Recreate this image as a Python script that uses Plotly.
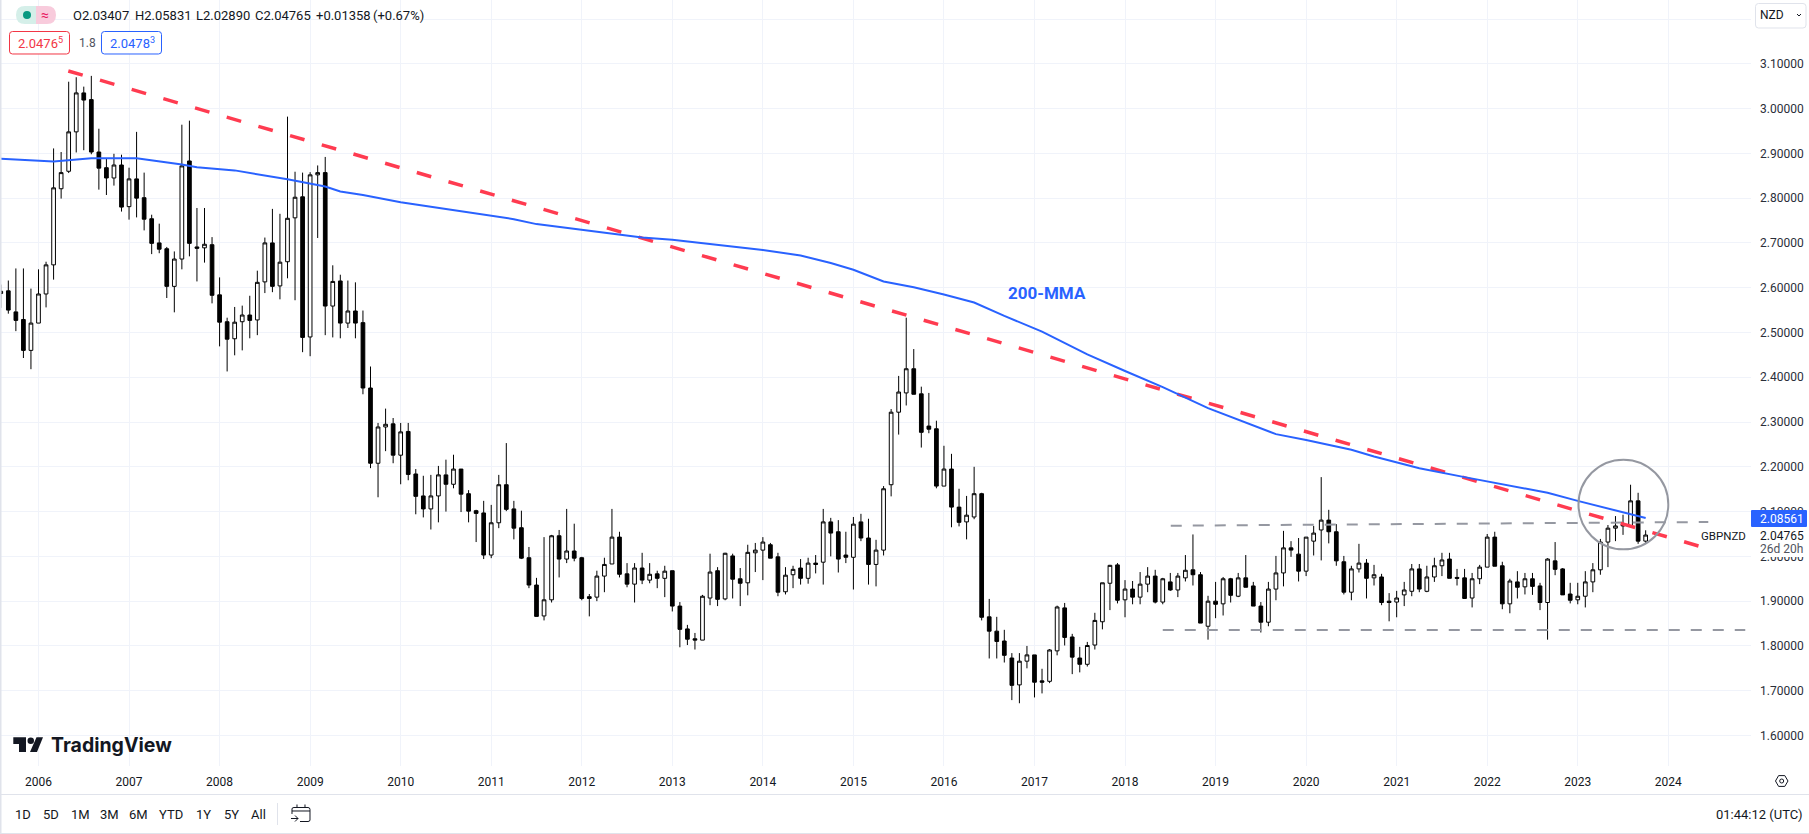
import re
import plotly.graph_objects as go

FIRST_MONTH = -5  # month index 0 = Jan 2006; series starts Aug 2005
opens = [
2.587,2.593,2.546,2.529,2.460,2.521,2.586,2.651,2.821,2.860,
2.948,3.035,3.020,2.903,2.868,2.845,2.874,2.781,2.843,2.801,
2.754,2.700,2.687,2.603,2.664,2.883,2.691,2.689,2.696,2.584,
2.524,2.486,2.524,2.539,2.528,2.613,2.700,2.604,2.658,2.756,
2.803,2.490,2.852,2.857,2.559,2.615,2.521,2.548,2.522,2.376,
2.208,2.289,2.296,2.226,2.279,2.184,2.135,2.106,2.135,2.182,
2.161,2.195,2.140,2.102,2.097,2.003,2.075,2.160,2.106,2.064,
1.997,1.936,1.867,1.903,2.046,1.994,2.012,1.997,1.910,1.909,
1.956,1.983,2.043,1.961,1.938,1.974,1.947,1.961,1.951,1.968,
1.889,1.838,1.816,1.813,1.907,1.968,1.905,2.001,1.950,1.941,
2.008,2.014,2.026,1.999,1.921,1.959,1.974,1.951,1.985,1.987,
2.077,2.055,2.003,1.998,2.077,2.041,1.982,2.014,2.160,2.322,
2.365,2.419,2.363,2.291,2.285,2.157,2.195,2.110,2.077,2.088,
2.140,1.865,1.833,1.811,1.773,1.713,1.766,1.780,1.722,1.721,
1.789,1.885,1.820,1.773,1.759,1.802,1.854,1.940,1.981,1.903,
1.927,1.909,1.938,1.956,1.898,1.943,1.925,1.952,1.970,1.959,
1.844,1.900,1.894,1.950,1.911,1.952,1.934,1.889,1.853,1.927,
1.963,2.019,2.005,1.967,2.034,2.059,2.081,2.055,1.988,1.920,
1.972,1.985,1.952,1.954,1.900,1.898,1.914,1.922,1.972,1.922,
1.954,1.979,1.994,1.953,1.952,1.907,1.950,1.976,2.043,1.979,
1.894,1.943,1.932,1.950,1.934,1.897,1.990,1.972,1.916,1.903,
1.911,1.943,1.970,2.032,2.063,2.072,2.068,2.124,2.03407]
highs = [
2.607,2.616,2.643,2.643,2.598,2.641,2.658,2.911,2.903,3.060,
3.070,3.049,3.073,2.955,2.888,2.899,2.897,2.868,2.948,2.857,
2.763,2.743,2.691,2.681,2.964,2.973,2.778,2.778,2.713,2.623,
2.533,2.557,2.560,2.582,2.638,2.712,2.776,2.765,2.982,2.859,
2.857,2.858,2.873,2.892,2.650,2.629,2.616,2.612,2.549,2.424,
2.298,2.330,2.309,2.298,2.298,2.195,2.180,2.182,2.202,2.216,
2.227,2.195,2.148,2.104,2.124,2.115,2.182,2.253,2.124,2.102,
2.021,1.952,2.043,2.048,2.059,2.106,2.073,1.999,1.916,1.968,
1.997,2.106,2.055,1.985,1.985,2.008,1.985,1.968,1.979,1.968,
1.898,1.847,1.829,1.914,2.006,1.976,2.008,2.006,1.974,2.026,
2.030,2.043,2.030,2.008,1.976,1.979,1.994,1.997,2.003,2.106,
2.086,2.081,2.055,2.088,2.095,2.084,2.037,2.157,2.329,2.403,
2.533,2.463,2.379,2.365,2.303,2.247,2.229,2.151,2.135,2.200,
2.142,1.905,1.865,1.836,1.784,1.784,1.800,1.780,1.749,1.793,
1.890,1.896,1.827,1.798,1.809,1.874,1.941,1.981,1.985,1.947,
1.945,1.965,1.976,1.970,1.952,1.963,1.963,2.003,2.049,1.965,
1.912,1.943,1.954,1.952,1.963,2.003,1.943,1.898,1.943,2.001,
2.057,2.034,2.041,2.043,2.068,2.177,2.104,2.072,2.001,1.979,
2.028,1.994,1.981,1.961,1.918,1.923,1.943,1.983,1.983,1.979,
1.997,2.008,2.008,1.972,1.972,1.963,1.981,2.050,2.055,1.988,
1.950,1.967,1.963,1.963,1.941,1.996,2.032,1.974,1.941,1.941,
1.967,1.985,2.039,2.070,2.090,2.093,2.160,2.142,2.05831]
lows = [
2.555,2.542,2.503,2.443,2.418,2.521,2.556,2.618,2.799,2.856,
2.902,2.907,2.898,2.819,2.807,2.828,2.770,2.752,2.757,2.728,
2.675,2.677,2.577,2.545,2.641,2.670,2.614,2.656,2.565,2.469,
2.413,2.449,2.460,2.487,2.494,2.588,2.590,2.574,2.621,2.572,
2.456,2.447,2.711,2.494,2.489,2.487,2.510,2.487,2.362,2.197,
2.132,2.235,2.208,2.161,2.170,2.094,2.087,2.060,2.076,2.100,
2.152,2.099,2.076,2.032,1.994,1.996,2.063,2.101,2.038,1.994,
1.929,1.866,1.857,1.897,1.953,1.985,1.989,1.902,1.866,1.900,
1.920,1.983,1.953,1.931,1.897,1.938,1.940,1.929,1.909,1.877,
1.797,1.802,1.792,1.813,1.891,1.889,1.902,1.906,1.889,1.913,
1.965,1.947,1.996,1.911,1.915,1.929,1.937,1.939,1.962,1.937,
2.000,1.964,1.985,1.926,2.034,1.937,1.933,2.002,2.134,2.272,
2.337,2.362,2.243,2.275,2.152,2.157,2.065,2.067,2.038,2.083,
1.857,1.772,1.772,1.763,1.679,1.672,1.750,1.685,1.694,1.717,
1.779,1.801,1.737,1.741,1.754,1.792,1.837,1.880,1.895,1.864,
1.893,1.893,1.920,1.895,1.893,1.923,1.909,1.944,1.935,1.851,
1.814,1.862,1.868,1.897,1.909,1.931,1.889,1.830,1.844,1.902,
1.933,1.999,1.944,1.956,2.002,1.991,2.029,1.979,1.915,1.902,
1.964,1.906,1.935,1.891,1.855,1.864,1.889,1.911,1.920,1.920,
1.943,1.956,1.951,1.935,1.906,1.886,1.938,1.976,1.978,1.882,
1.873,1.906,1.915,1.914,1.880,1.814,1.958,1.914,1.895,1.893,
1.886,1.920,1.959,1.976,2.034,2.048,2.068,2.028,2.02890]
closes = [
2.592,2.550,2.527,2.460,2.521,2.586,2.651,2.823,2.857,2.948,
3.035,3.019,2.903,2.867,2.845,2.874,2.780,2.843,2.800,2.753,
2.699,2.686,2.603,2.664,2.872,2.699,2.688,2.697,2.583,2.523,
2.485,2.523,2.539,2.527,2.612,2.700,2.603,2.657,2.755,2.802,
2.489,2.852,2.857,2.559,2.614,2.521,2.548,2.521,2.376,2.208,
2.289,2.295,2.226,2.278,2.183,2.134,2.106,2.135,2.182,2.161,
2.195,2.139,2.101,2.096,2.003,2.075,2.160,2.105,2.063,1.996,
1.936,1.866,1.903,2.046,1.994,2.012,1.996,1.906,1.906,1.956,
1.982,2.043,1.960,1.938,1.974,1.947,1.960,1.951,1.967,1.889,
1.837,1.815,1.813,1.911,1.965,1.904,2.007,1.949,1.940,2.009,
2.014,2.032,1.996,1.920,1.958,1.971,1.951,1.985,1.982,2.077,
2.052,1.994,1.998,2.072,2.041,1.982,2.014,2.151,2.322,2.367,
2.419,2.362,2.277,2.284,2.157,2.195,2.110,2.076,2.092,2.140,
1.864,1.833,1.810,1.779,1.712,1.766,1.780,1.719,1.719,1.791,
1.887,1.819,1.775,1.759,1.801,1.857,1.941,1.980,1.902,1.927,
1.909,1.938,1.956,1.898,1.950,1.925,1.956,1.969,1.959,1.851,
1.900,1.893,1.950,1.913,1.952,1.931,1.889,1.853,1.927,1.963,
2.019,2.014,1.967,2.043,2.052,2.081,2.055,1.990,1.920,1.972,
1.985,1.951,1.959,1.897,1.897,1.907,1.925,1.972,1.927,1.954,
1.979,1.992,1.951,1.951,1.906,1.950,1.976,2.043,1.978,1.894,
1.945,1.931,1.950,1.933,1.897,1.994,1.971,1.914,1.902,1.911,
1.943,1.970,2.032,2.063,2.068,2.068,2.124,2.034,2.04765]

ma_months = [-5,0,2,7,10,13,19,21,26,30,33,38,40,43,48,54,60,63,66,72,80,84,89,96,101,105,108,112,116,120,124,128,
             133,136,139,144,149,155,159,164,168,174,177,180,183,189,192,196,200,204,208,213]
ma_values = [2.888,2.883,2.882,2.889,2.889,2.889,2.875,2.869,2.862,2.851,2.842,2.826,2.815,2.807,2.791,2.776,2.761,2.753,2.742,2.729,2.712,2.707,2.697,2.684,2.672,2.655,2.640,2.614,2.601,2.585,2.567,2.537,
             2.502,2.477,2.451,2.414,2.378,2.331,2.306,2.273,2.260,2.238,2.223,2.210,2.197,2.177,2.167,2.154,2.142,2.124,2.107,2.08561]

trend_red_x, trend_red_y = [3.95, 220.0], [3.084, 2.0232]
res_x, res_y = [150.06, 221.3], [2.0685, 2.0768]
sup_x, sup_y = [149.0, 226.2], [1.8356, 1.8356]
circle_x, circle_y = [204.1, 216.0], [2.0158, 2.216]

year_labels = ["2006","2007","2008","2009","2010","2011","2012","2013","2014","2015","2016","2017","2018","2019","2020","2021","2022","2023","2024"]
year_months = [i * 12 for i in range(len(year_labels))]
price_ticks = [1.6,1.7,1.8,1.9,2.0,2.1,2.2,2.3,2.4,2.5,2.6,2.7,2.8,2.9,3.0,3.1,3.2]
range_buttons = [("1D",23),("5D",51),("1M",80),("3M",109),("6M",138),("YTD",171),("1Y",203),("5Y",231),("All",258)]
header_parts = [("O2.03407",72),("H2.05831",133.7),("L2.02890",195.3),("C2.04765",254.3),("+0.01358",315),("(+0.67%)",371.7)]

W, H = 1809, 834
FONT = "Roboto"
INK = "#131722"
BLUE = "#2962ff"
RED = "#f23645"
GREY = "#9598a1"
BORDER = "#e0e3eb"
GRID = "#f0f3fa"
PLOT_R, PLOT_B = 1751, 766
months = list(range(FIRST_MONTH, FIRST_MONTH + len(opens)))

def px(x): return x / W
def py(y): return 1 - y / H
def path(s):
    def conv(m):
        return f"{px(float(m.group(1))):.6f},{py(float(m.group(2))):.6f}"
    return re.sub(r"(-?[\d.]+),(-?[\d.]+)", conv, s)

shapes, annos = [], []
def pshape(d, line=None, width=1, fill=None, layer="above"):
    shapes.append(dict(type="path", xref="paper", yref="paper", path=path(d), layer=layer,
                       line=dict(color=line or "rgba(0,0,0,0)", width=width if line else 0),
                       fillcolor=fill or "rgba(0,0,0,0)"))
def rect(x0, y0, x1, y1, fill, layer="above"):
    shapes.append(dict(type="rect", xref="paper", yref="paper", x0=px(x0), x1=px(x1), y0=py(y0), y1=py(y1),
                       line=dict(width=0), fillcolor=fill, layer=layer))
def text(x, y, s, size=12, color=INK, anchor="left", family=FONT):
    annos.append(dict(xref="paper", yref="paper", x=px(x), y=py(y), text=s, showarrow=False, xanchor=anchor,
                      yanchor="middle", borderpad=0, font=dict(family=family, size=size, color=color)))
def rrect(x0, y0, x1, y1, r=3):
    return (f"M{x0+r},{y0} L{x1-r},{y0} Q{x1},{y0} {x1},{y0+r} L{x1},{y1-r} Q{x1},{y1} {x1-r},{y1} "
            f"L{x0+r},{y1} Q{x0},{y1} {x0},{y1-r} L{x0},{y0+r} Q{x0},{y0} {x0+r},{y0} Z")

fig = go.Figure()
fig.add_trace(go.Scatter(x=res_x, y=res_y, mode="lines", line=dict(color=GREY, width=2, dash="11px,11px"), hoverinfo="skip"))
fig.add_trace(go.Scatter(x=sup_x, y=sup_y, mode="lines", line=dict(color=GREY, width=2, dash="11px,11px"), hoverinfo="skip"))
fig.add_trace(go.Scatter(x=trend_red_x, y=trend_red_y, mode="lines", line=dict(color="#ff3b50", width=3.5, dash="15px,18px"), hoverinfo="skip"))
fig.add_trace(go.Scatter(x=ma_months, y=ma_values, mode="lines", line=dict(color=BLUE, width=2), name="200-MMA"))
fig.add_trace(go.Candlestick(x=months, open=opens, high=highs, low=lows, close=closes, name="GBPNZD",
    increasing=dict(line=dict(color="#000000", width=1), fillcolor="#ffffff"),
    decreasing=dict(line=dict(color="#000000", width=1), fillcolor="#000000"), whiskerwidth=0))

# circle highlight around the latest candles
shapes.append(dict(type="circle", xref="x", yref="y", x0=circle_x[0], x1=circle_x[1], y0=circle_y[0], y1=circle_y[1],
                   line=dict(color=GREY, width=2), layer="above"))

# price-axis tags
rect(1752, 527, W, 557, "#ffffff")
pshape(rrect(1751, 510, 1807, 527, 1), fill=BLUE)
text(1759, 518.5, "2.08561", 12, "#ffffff")
text(1759, 536, "2.04765", 12, INK)
text(1759, 549, "26d 20h", 12, "#50535e")
text(1700, 536, "GBPNZD", 11.5, INK)
annos.append(dict(xref="x", yref="y", x=133.7, y=2.588, text="<b>200-MMA</b>", showarrow=False, xanchor="center", yanchor="middle",
                  font=dict(family=FONT, size=17, color=BLUE)))

# frame
rect(0, 0, 1.5, H, BORDER)
rect(0, 794, W, 795, BORDER)
rect(0, 833, W, 834, BORDER)
rect(277, 803, 278, 825, BORDER)

# header
pshape(f"M36,6 L25,6 Q16,6 16,15 Q16,24 25,24 L36,24 Z", fill="#d5efe9")
pshape(f"M36,6 L47,6 Q56,6 56,15 Q56,24 47,24 L36,24 Z", fill="#f8cbdc")
shapes.append(dict(type="circle", xref="paper", yref="paper", x0=px(23), x1=px(31), y0=py(19), y1=py(11), fillcolor="#089981", line=dict(width=0), layer="above"))
text(45, 15, "≈", 14, "#e91e63", "center")
for s, x in header_parts:
    text(x, 15.5, s, 13, INK)
pshape(rrect(9.5, 31.5, 69.5, 54), line=RED, width=1, fill="#ffffff")
pshape(rrect(101.5, 31.5, 161.5, 54), line=BLUE, width=1, fill="#ffffff")
text(17, 43, "2.0476<sup>5</sup>", 13, RED)
text(78, 43, "1.8", 12, "#50535e")
text(109, 43, "2.0478<sup>3</sup>", 13, BLUE)

# currency box
pshape(rrect(1755.5, 3.5, 1806, 28), line=BORDER, width=1, fill="#ffffff")
text(1759, 15.5, "NZD", 12, INK)
pshape("M1797,14 L1799,16 L1801,14", line=INK, width=1)

# logo
pshape("M13.3,737.3 L26,737.3 L26,752 L19,752 L19,744 L13.3,744 Z", fill=INK)
shapes.append(dict(type="circle", xref="paper", yref="paper", x0=px(27.5), x1=px(34), y0=py(744), y1=py(737.5), fillcolor=INK, line=dict(width=0), layer="above"))
pshape("M36.5,737.3 L43,737.3 L37,752 L30,752 Z", fill=INK)
text(50, 745, "<b>TradingView</b>", 19.5, INK, family="Inter")

# bottom bar
for s, x in range_buttons:
    text(x, 814, s, 13, INK, "center")
text(1804, 814, "01:44:12 (UTC)", 13, INK, "right")
pshape("M292,814 L292,809 Q292,807.5 294,807.5 L308,807.5 Q310,807.5 310,809.5 L310,820 Q310,821.5 308,821.5 L300,821.5", line=INK, width=1)
pshape("M292,811 L310,811", line=INK, width=1)
pshape("M297,804.5 L297,807.5", line=INK, width=1)
pshape("M305,804.5 L305,807.5", line=INK, width=1)
pshape("M291,818.5 L298,818.5", line=INK, width=1)
pshape("M295,815.5 L298,818.5 L295,821.5", line=INK, width=1)

# settings hexagon
pshape("M1775.5,781 L1778.6,775.6 L1784.8,775.6 L1788,781 L1784.8,786.4 L1778.6,786.4 Z", line=INK, width=1)
shapes.append(dict(type="circle", xref="paper", yref="paper", x0=px(1779.7), x1=px(1783.7), y0=py(783), y1=py(779), line=dict(color=INK, width=1), layer="above"))

x_per_month = (1668.3 - 38.5) / 216
x0_month = (1 - 38.5) / x_per_month
x1_month = (PLOT_R - 38.5) / x_per_month
y_per_px = 0.1 / 44.78
y_top = 3.1 + 63.8 * y_per_px
y_bot = 1.6 - (PLOT_B - 735.5) * y_per_px

fig.update_layout(
    width=W, height=H, margin=dict(l=0, r=0, t=0, b=0), paper_bgcolor="#ffffff", plot_bgcolor="#ffffff",
    showlegend=False, shapes=shapes, annotations=annos,
    font=dict(family=FONT, size=12, color=INK),
    xaxis=dict(domain=[px(1), px(PLOT_R)], range=[x0_month, x1_month], tickmode="array", tickvals=year_months, ticktext=year_labels,
               showgrid=True, gridcolor=GRID, gridwidth=1, zeroline=False, showline=False, ticks="", ticklabelstandoff=7,
               rangeslider=dict(visible=False), tickfont=dict(family=FONT, size=12, color=INK)),
    yaxis=dict(domain=[py(PLOT_B), 1], range=[y_bot, y_top], side="right", tickmode="array", tickvals=price_ticks,
               ticktext=[f"{v:.5f}" for v in price_ticks], showgrid=True, gridcolor=GRID, gridwidth=1, zeroline=False, showline=False,
               ticks="", ticklabelstandoff=8, tickfont=dict(family=FONT, size=12, color="#2a2e39")),
)
fig.write_html("out.html", config={"displayModeBar": False},
               post_script="document.body.style.margin='0';document.documentElement.style.overflow='hidden';")
